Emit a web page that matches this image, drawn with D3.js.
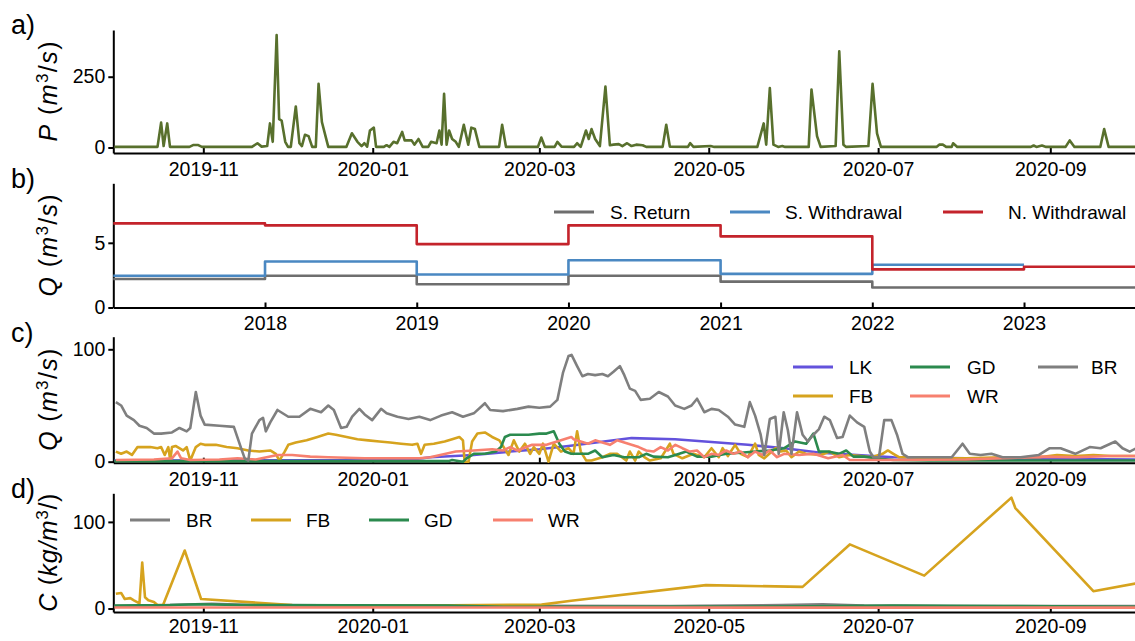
<!DOCTYPE html>
<html>
<head>
<meta charset="utf-8">
<script src="https://cdn.jsdelivr.net/npm/d3@7"></script>
<style>
  body { margin: 0; background: #fff; }
  svg { font-family: "Liberation Sans", Arial, sans-serif; }
  .axis path, .axis line { stroke: #000; stroke-width: 2; }
  .axis text { font-size: 19.5px; fill: #000; font-family: "Liberation Sans", Arial, sans-serif; }
  .series { fill: none; stroke-width: 2.6; stroke-linejoin: round; }
  .legend text { font-size: 19px; fill: #000; }
</style>
</head>
<body>
<svg id="fig" width="1135" height="641"></svg>
<script>
// day offsets counted from 2019-09-30
var dayZero = Date.UTC(2019, 8, 30);

// a) precipitation [day, m3/s]
var precip = [[0,2],[15.5,2],[16.8,88],[17.7,5],[19,85],[20,2],[27,2],[28.5,9],[30,9],[31.5,2],
  [49.5,2],[51.5,15],[53,3],[55,5],[56,85],[57,20],[58.4,397],[59.3,100],[60.2,95],[61.5,20],[62.5,2],
  [63.5,2],[65.3,145],[66.6,15],[67.5,5],[68.6,45],[69.9,40],[71.2,2],[72.5,2],[73.5,225],[74.7,90],
  [76,40],[77,2],[83.5,2],[85.5,50],[87.5,20],[89,5],[90,15],[91,3],[92,60],[93.4,70],[94.2,2],[97,2],
  [98,8],[99,2],[100.5,20],[101.8,15],[103.6,55],[104.5,25],[106,25],[107,25],[108,10],[109.5,30],
  [111,2],[113,2],[114,20],[116,15],[117,60],[117.8,10],[118.7,190],[119.6,10],[120.5,60],[121.6,30],
  [122.9,20],[124,2],[125.8,80],[127.4,10],[128.5,70],[129.8,65],[131.4,2],[138.5,2],[139.6,80],[141,2],
  [152.5,2],[153.7,35],[155,2],[158.5,2],[159.5,20],[161,3],[165.5,2],[166.6,15],[167.9,2],[169.8,60],
  [170.8,30],[171.8,65],[173.1,30],[174.8,5],[176.8,215],[178.4,8],[179.7,10],[181.6,12],[182.9,5],
  [184.6,15],[186.2,5],[187.9,10],[190.2,8],[191.5,2],[197.4,2],[198.7,80],[200,3],[206.5,2],[207.3,15],
  [208.5,2],[214.7,5],[216,2],[231.5,2],[233.8,85],[234.7,10],[236,210],[237.3,10],[239,2],[240.5,5],
  [241.5,2],[250,2],[251,205],[253,40],[254.3,2],[259.7,5],[261,340],[262.5,10],[263.5,2],[271.5,5],
  [273,225],[274.6,50],[276,2],[296,2],[297,10],[298.3,10],[299.5,2],[301.5,2],[302,15],[303.5,2],
  [330,2],[331,7],[332,2],[334,7],[335.5,2],[342.5,2],[344,25],[345.7,2],[355,2],[356.4,65],[358,2],[368,2]];

// b) yearly step values
var stepYears = [2017, 2018, 2019, 2020, 2021, 2022, 2023];
var sReturn = [2.2, 2.45, 1.8, 2.45, 2.0, 1.55, 1.55];
var sWithdrawal = [2.45, 3.55, 2.55, 3.65, 2.6, 3.3];
var nWithdrawal = [6.5, 6.35, 4.9, 6.35, 5.5, 2.95, 3.15];

// c) streamflow [day, m3/s]
var lkQ = [[0,1],[105,1.5],[111,3],[113.7,4],[129.4,6],[142.5,9],[153,11],[163.5,14],[186.2,21],[201.9,20],
  [228.1,15],[241.2,12],[254.3,8],[267.4,6],[280.5,4],[306.7,3],[368,2]];
var fbQ = [[0.5,9],[2.4,7],[4.4,9],[6.3,6],[8.3,13],[10.3,13],[12.9,13],[15.5,12],[16.8,13],[18.1,6],
  [19.4,13],[20.1,1],[20.7,13],[22,14],[24.7,10],[26,13],[27.3,1],[29.3,13],[31,16],[32.5,15],[36.5,15],
  [40.4,13],[44.3,12],[48.2,10],[52.2,9],[56.1,10],[58.1,7],[59.4,1],[61.3,9],[62.6,15],[65.3,17],
  [69.2,19],[73.1,22],[77,25],[79.7,24],[83.6,22],[87.5,20],[91.4,19],[95.4,18],[99.3,17],[103.2,16],
  [107.2,15],[109.1,16],[110.4,7],[111.7,15],[115,16],[118.9,18],[121.6,20],[124.2,22],[125.5,19],
  [126.1,0],[127.5,0],[128.8,18],[130.7,25],[133.4,26],[136,22],[138.6,19],[139.9,14],[141.9,6],
  [143.8,19],[145.8,9],[147.8,16],[149.7,7],[151,13],[153,7],[154.3,16],[156.3,0],[158.2,16],[160.8,9],
  [163.5,12],[165.3,7],[166.6,27],[167.9,9],[169.9,1],[171.8,1],[175.7,4],[178.4,7],[181,7],[184.3,1],
  [185.6,9],[187.5,1],[188.8,9],[190.8,4],[192.8,1],[196.7,3],[200,16],[201.3,7],[204.5,3],[208.5,7],
  [212.4,4],[215,12],[217.6,4],[219,12],[220.9,5],[223.5,15],[225.5,7],[228.1,4],[230.7,16],[232,6],
  [234,3],[238,12],[239.9,9],[241.9,10],[243.8,4],[246.5,9],[249,7],[254.3,6],[257.6,9],[260.9,4],
  [264.8,6],[268.7,5],[272.6,4],[276.6,7],[278.5,10],[280.5,7],[282.5,4],[285.7,4],[293.6,3],[306.7,3],
  [319.8,4],[332.9,4],[339.4,6],[346,5],[352.5,6],[359.1,5],[368,5]];
var gdQ = [[0,0.5],[120.3,0.5],[121.6,1.5],[125.5,0],[126.8,3],[129.4,7],[133.4,7],[137.3,9],[139.2,13],
  [140.6,22],[142.5,24],[149.1,24],[153,25],[155.6,25],[158.2,27],[160.2,16],[162.2,9],[164.5,7],
  [166.6,7],[170.5,7],[173.1,10],[175.7,4],[179.7,6],[183.6,4],[188.8,4],[191.5,7],[194.1,4.5],[199.3,4],
  [202,6],[205.9,9],[209.8,4.5],[215,4.5],[220.3,7],[225.5,8],[230.7,9],[236,10],[241.2,12],[245.1,18],
  [249.1,16],[251.7,25],[253.7,9],[257,9],[260.9,7],[263.5,10],[266.1,4.5],[270,4.5],[273.9,3],[280.5,1.5],
  [293.6,1],[368,1]];
var wrQ = [[0.5,1.5],[14.2,2],[20.7,3],[22.7,9],[24,3],[27.3,1.5],[37.8,2],[44.3,3],[50.9,2],[54.8,4],
  [58.7,6],[64,6],[70.5,4.5],[77,4],[90.1,3],[103.2,3],[109.8,3],[113.7,4],[122.9,9],[129.4,10],[136,11],
  [139.9,10],[142.5,13],[145.1,10],[150.4,15],[155.6,15],[160.8,19],[164.5,22],[165.3,20],[167.9,18],
  [170.5,16],[173.1,19],[175.7,17],[178.4,15],[181,19],[183.6,17],[186.2,15],[188.8,13],[191.5,10],
  [194.1,9],[196.7,13],[199.3,10],[202,15],[204.5,12],[207.2,9],[209.8,10],[212.4,4],[215,7],[217.6,6],
  [220.3,10],[222.9,7],[225.5,9],[228.1,4],[230.7,9],[233.4,6],[236,10],[238.6,4],[241.2,7],[246.5,6],
  [251.7,7],[257,3],[262.2,6],[264.8,1.5],[280.5,1.5],[306.7,2],[319.8,3],[332.9,4.5],[346,4],[359.1,5],[368,5]];
var brQ = [[0.5,53],[2.4,50],[4.4,41],[7,37],[9,32],[11.6,30],[14.2,25],[16.8,25],[20.7,26],[23.4,30],
  [26,27],[27.3,30],[29.3,62],[31,41],[32.5,33],[37.8,32],[43,31],[45.6,12],[46.9,3],[48.2,1],[49.5,25],
  [52.2,37],[53.5,39],[54.5,27],[56.1,35],[58.7,46],[62.6,40],[66.6,40],[70.5,47],[74.4,44],[77,50],
  [79,46],[81.6,30],[83.6,31],[85.6,40],[88.2,47],[90.1,42],[92.8,37],[96,47],[98,43],[101.9,40],
  [105.9,38],[109.8,40],[113.7,37],[117.6,41],[121.6,44],[125.5,40],[129.4,43],[133.4,52],[135.3,46],
  [139.9,45],[145.1,47],[149.1,49],[153,48],[156.9,49],[159.5,55],[161.5,79],[163.5,94],[164.6,95],
  [166.6,85],[168.5,76],[170.5,78],[173.1,77],[175.7,78],[177.7,76],[179.7,80],[182,85],[183.6,77],
  [185.6,65],[187.5,63],[189.5,55],[192.8,56],[196,62],[199.3,58],[201.9,50],[205.2,47],[207.8,50],
  [209.8,56],[212.4,44],[215,47],[217.6,46],[220.9,40],[223.5,33],[226.8,31],[228.8,53],[230.7,41],
  [232.7,24],[234,6],[236,38],[238,40],[239.2,7],[241,44],[242.5,28],[243.8,7],[245.8,44],[247.8,24],
  [249.7,18],[251.7,24],[253.7,29],[255.6,40],[257.6,37],[260.2,21],[262.2,22],[264.8,41],[267.4,35],
  [270,31],[272,9],[273.3,4],[275.3,4],[277.2,37],[279.8,37],[281.8,24],[283.8,7],[285.7,4],[293.6,4],
  [301.5,4],[305.4,16],[308,7],[311.9,6],[315.8,7],[319.8,4],[326.3,4],[332.9,6],[336.8,12],[340.7,12],
  [346,7],[351.2,13],[355.1,12],[360.4,18],[363,12],[365.6,9],[368,12]];

// d) concentration [day, kg/m3]
var brC = [[0,3],[20,4],[35,5.5],[50,4],[100,3.5],[200,3],[240,4],[255,5],[270,3.5],[300,3],[368,3]];
var fbC = [[0.5,17],[2.4,18],[3.7,11],[5.7,12],[7,9.5],[9,6],[10,53],[11,13],[12.2,9.5],[14.2,7.6],
  [15.5,4],[17.5,4],[25.3,67],[31.2,11],[64,4],[90,3],[153.8,4.5],[164.5,9],[213,27],[247.8,25],
  [264.8,74],[291.6,38],[323,128],[324.4,116],[352.5,20],[368,29]];
var gdC = [[0,3.5],[20,4],[30,5],[45,4],[120,3.5],[140,2],[250,2.5],[280,3.5],[320,3],[368,2]];
var wrC = [[0,1.2],[368,1]];

var colors = {P: '#58702d', ret: '#6e6e6e', sw: '#4a88c2', nw: '#c4232b',
  LK: '#6352dc', FB: '#d6a31e', GD: '#2b8a4e', WR: '#f7806f', BR: '#7f7f7f'};

var svg = d3.select('#fig');
var left = 113.3, right = 1135;

function toDate(d) { return new Date(dayZero + d * 864e5); }

var xDay = d3.scaleUtc()
    .domain([new Date(Date.UTC(2019, 8, 29, 14)), new Date(Date.UTC(2020, 9, 1, 12))])
    .range([left, right]);
var xYear = d3.scaleUtc()
    .domain([new Date(Date.UTC(2017, 0, 1)), new Date(Date.UTC(2023, 8, 25))])
    .range([left, right]);

function frame(x, y, yTicks, xTicks, xFmt, top, bottom, pad) {
    svg.append('g')
        .attr('class', 'axis')
        .attr('transform', 'translate(0,' + bottom + ')')
        .call(d3.axisBottom(x).tickValues(xTicks).tickFormat(xFmt)
            .tickSizeInner(-5).tickSizeOuter(0).tickPadding(pad));
    svg.append('g')
        .attr('class', 'axis')
        .attr('transform', 'translate(' + left + ',0)')
        .call(d3.axisLeft(y).tickValues(yTicks).tickFormat(d3.format('d'))
            .tickSizeInner(5).tickSizeOuter(0).tickPadding(3));
}

function series(data, x, y, color) {
    var line = d3.line()
        .x(function(d) { return x(toDate(d[0])); })
        .y(function(d) { return y(d[1]); });
    svg.append('path')
        .datum(data)
        .attr('class', 'series')
        .attr('stroke', color)
        .attr('d', line);
}

function yLabel(letter, unitTop, top, bottom, len) {
    var cy = (top + bottom) / 2;
    var t = svg.append('text')
        .attr('transform', 'translate(57,' + cy + ') rotate(-90)')
        .attr('text-anchor', 'middle')
        .attr('font-size', 25)
        .attr('textLength', len)
        .attr('lengthAdjust', 'spacing');
    t.append('tspan').attr('font-style', 'italic').text(letter);
    t.append('tspan').text(' (');
    t.append('tspan').attr('font-style', 'italic').text(unitTop);
    t.append('tspan').attr('font-style', 'italic').text('m');
    t.append('tspan').attr('font-size', 17).attr('dy', -9).text('3');
    t.append('tspan').attr('dy', 9).text('/');
    if (letter != 'C') t.append('tspan').attr('font-style', 'italic').text('s');
    t.append('tspan').text(')');
}

function panelTag(txt, y) {
    svg.append('text').attr('x', 11).attr('y', y).attr('font-size', 27).text(txt);
}

function legend(items, x0, y0, dx, dy, ncol) {
    var g = svg.append('g').attr('class', 'legend');
    items.forEach(function(it, i) {
        var col = Math.floor(i / (items.length / ncol > 1 ? 2 : 1));
        var row = items.length / ncol > 1 ? i % 2 : 0;
        if (items.length / ncol <= 1) col = i;
        var x = x0 + col * dx[col], y = y0 + row * dy;
        g.append('line').attr('x1', x).attr('x2', x + 40).attr('y1', y).attr('y2', y)
            .attr('stroke', it.c).attr('stroke-width', 3);
        g.append('text').attr('x', x + it.off).attr('y', y).attr('dy', '0.35em').text(it.t);
    });
}

var monthTicks = xDay.ticks(d3.utcMonth.every(2));
var monthFmt = d3.utcFormat('%Y-%m');

// a) precipitation
var yA = d3.scaleLinear().domain([-19.5, 415]).range([153, 30]);
frame(xDay, yA, [0, 250], monthTicks, monthFmt, 30, 153, 9);
series(precip, xDay, yA, colors.P);
panelTag('a)', 34);
yLabel('P', '', 30, 153, 100);

// b) yearly steps
var yB = d3.scaleLinear().domain([0, 9.6]).range([307.5, 183.3]);
var yearTicks = [2018, 2019, 2020, 2021, 2022, 2023].map(function(y) { return new Date(Date.UTC(y, 0, 1)); });
frame(xYear, yB, [0, 5], yearTicks, d3.utcFormat('%Y'), 183.3, 307.5, 9);
function stepLine(vals, color, endDate) {
    var pts = vals.map(function(v, i) { return [new Date(Date.UTC(stepYears[i], 0, 1)), v]; });
    pts.push([endDate, vals[vals.length - 1]]);
    var line = d3.line().curve(d3.curveStepAfter)
        .x(function(d) { return xYear(d[0]); })
        .y(function(d) { return yB(d[1]); });
    svg.append('path').datum(pts).attr('class', 'series').attr('stroke', color).attr('d', line);
}
var bEnd = xYear.domain()[1];
stepLine(sReturn, colors.ret, bEnd);
stepLine(sWithdrawal, colors.sw, new Date(Date.UTC(2023, 0, 1)));
stepLine(nWithdrawal, colors.nw, bEnd);
panelTag('b)', 188);
yLabel('Q', '', 183.3, 307.5, 102);
legend([{t: 'S. Return', c: colors.ret, off: 56}, {t: 'S. Withdrawal', c: colors.sw, off: 55},
        {t: 'N. Withdrawal', c: colors.nw, off: 65}], 554, 212, [0, 176, 194.5], 0, 3);

// c) streamflow
var yC = d3.scaleLinear().domain([-0.9, 111.2]).range([462.7, 336.7]);
frame(xDay, yC, [0, 100], monthTicks, monthFmt, 336.7, 462.7, 9);
series(lkQ, xDay, yC, colors.LK);
series(fbQ, xDay, yC, colors.FB);
series(gdQ, xDay, yC, colors.GD);
series(wrQ, xDay, yC, colors.WR);
series(brQ, xDay, yC, colors.BR);
panelTag('c)', 342);
yLabel('Q', '', 336.7, 462.7, 102);
legend([{t: 'LK', c: colors.LK, off: 56}, {t: 'FB', c: colors.FB, off: 56},
        {t: 'GD', c: colors.GD, off: 57}, {t: 'WR', c: colors.WR, off: 57},
        {t: 'BR', c: colors.BR, off: 53}], 793, 367, [0, 117, 122.5], 29, 3);

// d) concentration
var yD = d3.scaleLinear().domain([-4, 133]).range([612, 493.3]);
frame(xDay, yD, [0, 100], monthTicks, monthFmt, 493.3, 612, 7);
series(brC, xDay, yD, colors.BR);
series(fbC, xDay, yD, colors.FB);
series(gdC, xDay, yD, colors.GD);
series(wrC, xDay, yD, colors.WR);
panelTag('d)', 498);
yLabel('C', 'kg/', 493.3, 612, 118);
legend([{t: 'BR', c: colors.BR, off: 56}, {t: 'FB', c: colors.FB, off: 55},
        {t: 'GD', c: colors.GD, off: 55}, {t: 'WR', c: colors.WR, off: 55}], 130, 520, [0, 121, 119.5, 121], 0, 4);
</script>
</body>
</html>
